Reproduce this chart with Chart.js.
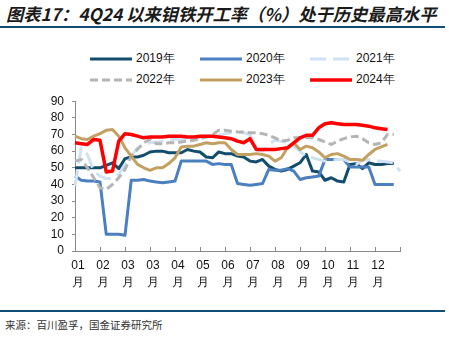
<!DOCTYPE html>
<html>
<head>
<meta charset="utf-8">
<script src="https://cdn.jsdelivr.net/npm/chart.js@4.4.1/dist/chart.umd.min.js"></script>
<style>
  body { margin: 0; width: 449px; height: 344px; background: #fff; position: relative; overflow: hidden; font-family: "Liberation Sans", Arial, sans-serif; }
  #title { position: absolute; left: 6px; top: 1px; font-family: "Noto Sans CJK SC", sans-serif; font-weight: bold; font-style: italic; font-size: 17.3px; color: #1a1a1a; white-space: nowrap; }
  .rule { position: absolute; left: 0; width: 445px; height: 2px; background: #0f4c78; }
  #legend { position: absolute; left: 90px; top: 50px; width: 340px; }
  .item { position: absolute; display: flex; align-items: center; font-size: 12px; color: #111; white-space: nowrap; }
  .item svg { margin-right: 4px; }
  #box { position: absolute; left: 0; top: 86px; width: 449px; height: 214px; }
  #source { position: absolute; left: 5px; top: 317px; font-family: "Noto Sans CJK SC", sans-serif; font-size: 10.5px; color: #333; }
</style>
</head>
<body>
<div id="title">图表17：4Q24 以来钼铁开工率（%）处于历史最高水平</div>
<div class="rule" style="top:26px"></div>
<div id="legend"></div>
<div id="box"><canvas id="chart"></canvas></div>
<div class="rule" style="top:310px"></div>
<div id="source">来源：百川盈孚，国金证券研究所</div>

<script>
// weekly points, a tick every 4 weeks
const weeks = Array.from({ length: 53 }, (_, i) => 'W' + (i + 1));
const monthTicks = ['01', '02', '03', '03', '04', '05', '06', '07', '08', '09', '10', '11', '12', ''];

const years = ['2019年', '2020年', '2021年', '2022年', '2023年', '2024年'];

const y2019 = [50, 50, 50, 50, 50, 51.5, 53, 49.5, 55.5, 56.5, 56.5, 57.5, 59.5, 60, 60, 59, 59, 59, 61, 60,
  59.5, 56.5, 56, 59.5, 58.5, 58.5, 57, 56.5, 54, 53.5, 55, 51, 49, 48, 49, 51, 53, 58, 48, 47.5,
  42.5, 44, 42, 41.5, 52, 52.5, 49.5, 53, 52, 52, 52.5, 52.5, null];
const y2020 = [45, 42.5, 42, 42, 41.5, 10, 10, 10, 9.5, 42.5, 42.5, 43, 42, 41.5, 41, 41.5, 42, 54, 54, 54,
  54, 54, 52, 52.5, 52, 52, 40.5, 40, 39.5, 40, 40.5, 49, 48.5, 48.5, 49.5, 48, 43, 44, 44.5, 45,
  55, 55, 55, 55, 50.5, 50.5, 50.5, 50.5, 40, 40, 40, 40, null];
const y2021 = [39, 62, 58, 48, 45, 43.5, 43.5, 46, 52, 57, 62, 64, 65, 65.5, 66, 67, 67, 67, 67, 67.5,
  68, 68.5, 69, 69.5, 70.5, 71, 71, 71, 70, 61, 60, 64, 66.5, 66, 65, 63, 60, 56.5, 56, 55,
  54, 54.5, 55, 55, 53.5, 52, 54.5, 55, 54, 54, 53.5, 53, 48];
const y2022 = [54, 55, 50, 44, 38, 37, 40, 44, 49, 57, 61, 65, 67, 64.5, 64.5, 65, 65, 65.5, 66, 66.5,
  67.5, 68.5, 70, 72.5, 72.5, 72, 71.5, 71.5, 71, 71, 70.5, 69.5, 68, 66, 66.5, 68, 68, 68, 68, 67,
  65.5, 64, 66, 67.5, 68.5, 69, 67.5, 65, 64, 65, 70, 70, null];
const y2023 = [69, 67.5, 67, 69, 70.5, 72.5, 73, 69, 62, 57, 52, 50, 48.5, 50, 50, 52.5, 56, 62.5, 63, 63,
  64, 65, 64.5, 65, 65, 61, 58, 58, 58, 58.5, 58, 57, 54, 56, 62, 65, 61, 63, 62, 59.5,
  56, 58, 58.5, 57, 55, 55, 54.5, 58, 61, 62.5, 64, null, null];
const y2024 = [65, 64.5, 64, 67, 66.5, 47.5, 48, 66, 70.5, 70, 69, 68, 68.5, 68.5, 68.5, 69, 69, 69, 68.5, 68.5,
  69, 69, 69, 68.5, 68, 67.5, 66, 65, 67.5, 61, 61, 61, 61, 61.5, 62, 65, 68, 69.5, 69.5, 74,
  76.5, 77, 76.5, 76, 76, 76, 75.5, 75, 74, 73.5, 73, null, null];

const series = [y2019, y2020, y2021, y2022, y2023, y2024];
const colors = ['#124d6e', '#4a7fc0', '#cfe2f3', '#b5b5b5', '#c3a062', '#ff0000'];
const dashes = [[], [], [16, 7], [8, 4], [], []];
const widths = [3, 3, 3, 3, 3, 3.5];

// legend: 3 columns, 2 rows
const legend = document.getElementById('legend');
years.forEach((name, i) => {
  const el = document.createElement('div');
  el.className = 'item';
  el.style.left = (i % 3) * 110 + 'px';
  el.style.top = Math.floor(i / 3) * 21 + 'px';
  el.innerHTML = `<svg width="42" height="6"><line x1="0" y1="3" x2="42" y2="3" stroke="${colors[i]}"
    stroke-width="${widths[i]}" stroke-dasharray="${dashes[i].join(' ')}"/></svg>${name}`;
  legend.appendChild(el);
});

// short tick marks pointing up from the x axis
const innerTicks = {
  id: 'innerTicks',
  afterDraw(chart) {
    const x = chart.scales.x, ctx = chart.ctx, bottom = chart.chartArea.bottom;
    ctx.save();
    ctx.strokeStyle = '#8a8a8a';
    ctx.lineWidth = 1;
    x.ticks.forEach((t, i) => {
      if (t.label === null || t.label === undefined) return;
      const px = Math.round(x.getPixelForTick(i)) + 0.5;
      ctx.beginPath();
      ctx.moveTo(px, bottom);
      ctx.lineTo(px, bottom - 4);
      ctx.stroke();
    });
    ctx.restore();
  }
};

new Chart(document.getElementById('chart'), {
  type: 'line',
  data: {
    labels: weeks,
    datasets: series.map((data, i) => ({
      label: years[i],
      data: data,
      borderColor: colors[i],
      borderWidth: widths[i],
      borderDash: dashes[i],
      borderJoinStyle: 'round',
      pointRadius: 0,
      tension: 0,
      order: series.length - i
    }))
  },
  options: {
    responsive: true,
    maintainAspectRatio: false,
    animation: false,
    layout: { padding: { top: 11, right: 49, left: 0, bottom: 0 } },
    plugins: { legend: { display: false }, tooltip: { enabled: false } },
    scales: {
      x: {
        afterFit: s => { s.height = 49; },
        grid: { display: false, drawTicks: false },
        border: { color: '#8a8a8a', width: 1 },
        ticks: {
          autoSkip: false,
          maxRotation: 0,
          padding: 6,
          labelOffset: 3,
          color: '#111',
          font: { family: 'Liberation Sans', size: 12, lineHeight: 1.45 },
          callback: (v, i) => i % 4 === 0 ? (monthTicks[i / 4] ? [monthTicks[i / 4], '月'] : '') : null
        }
      },
      y: {
        min: 0,
        max: 90,
        afterFit: s => { s.width = 75; },
        grid: { drawOnChartArea: false, tickLength: 3, color: '#8a8a8a' },
        border: { color: '#8a8a8a', width: 1 },
        ticks: {
          stepSize: 10,
          autoSkip: false,
          padding: 8,
          color: '#111',
          font: { family: 'Liberation Sans', size: 12 }
        }
      }
    }
  },
  plugins: [innerTicks]
});
</script>
</body>
</html>
